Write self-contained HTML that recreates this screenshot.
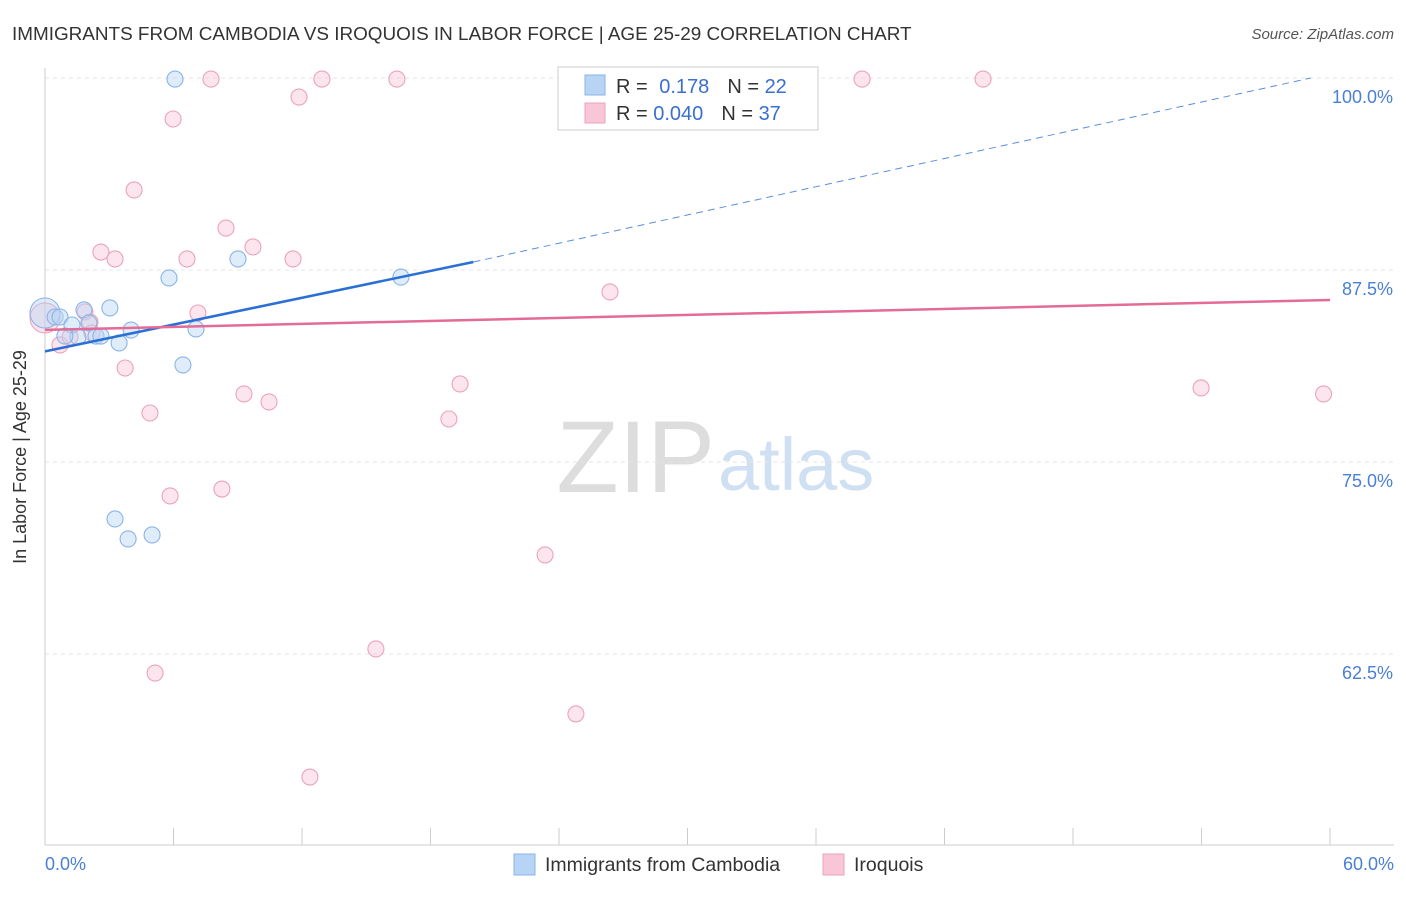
<!DOCTYPE html>
<html><head><meta charset="utf-8"><style>
body{margin:0;background:#fff;font-family:"Liberation Sans",sans-serif;}
svg text{font-family:"Liberation Sans",sans-serif;}
</style></head><body>
<svg id="c" width="1406" height="892" xmlns="http://www.w3.org/2000/svg">
<text x="12" y="40" font-size="18.9" fill="#333">IMMIGRANTS FROM CAMBODIA VS IROQUOIS IN LABOR FORCE | AGE 25-29 CORRELATION CHART</text>
<text x="1394" y="39" font-size="15" fill="#555" font-style="italic" text-anchor="end">Source: ZipAtlas.com</text>
<text x="715" y="492" font-size="102" fill="#ddd" text-anchor="end" font-family="Liberation Serif">ZIP</text>
<text x="718" y="490" font-size="74" fill="#cfe0f3">atlas</text>
<g id="grid"></g>
<line x1="45" y1="68" x2="45" y2="845" stroke="#ccc"/>
<line x1="45" y1="845" x2="1394" y2="845" stroke="#ccc"/>
<text x="26" y="457" font-size="18" fill="#333" text-anchor="middle" transform="rotate(-90 26 457)">In Labor Force | Age 25-29</text>
<text x="45" y="870" font-size="18" fill="#4a7fd4">0.0%</text>
<text x="1394" y="870" font-size="18" fill="#4a7fd4" text-anchor="end">60.0%</text>
<g id="marks"></g>
<g>
<rect x="558" y="67" width="260" height="63" fill="#fff" stroke="#ccc"/>
<rect x="585" y="75" width="20" height="20" fill="#b8d4f5" stroke="#8ab4e8"/>
<rect x="585" y="103" width="20" height="20" fill="#f8c6d6" stroke="#eba3bb"/>
<text x="616" y="93" font-size="20" fill="#333">R = <tspan fill="#3a6fd0" dx="6">0.178</tspan><tspan dx="18">N = </tspan><tspan fill="#3a6fd0">22</tspan></text>
<text x="616" y="120" font-size="20" fill="#333">R = <tspan fill="#3a6fd0">0.040</tspan><tspan dx="18">N = </tspan><tspan fill="#3a6fd0">37</tspan></text>
</g>
<g>
<rect x="514" y="854" width="21" height="21" fill="#b8d4f5" stroke="#8ab4e8"/>
<text x="545" y="871" font-size="19.5" fill="#333">Immigrants from Cambodia</text>
<rect x="823" y="854" width="21" height="21" fill="#f8c6d6" stroke="#eba3bb"/>
<text x="854" y="871" font-size="19.5" fill="#333">Iroquois</text>
</g>
</svg>
<script>
const yTicks=[100,87.5,75,62.5];
const yTickLabels=["100.0%","87.5%","75.0%","62.5%"];
const xTicks=[0,6,12,18,24,30,36,42,48,54,60];
const blueX=[0,0.47,0.7,1.26,1.54,1.82,2.05,2.38,2.61,3.03,3.46,4.02,5.79,6.07,6.44,7.05,9.01,16.62,3.27,3.88,5.0,0.93];
const blueY=[84.7,84.44,84.44,83.92,83.14,84.9,84.05,83.2,83.2,85.03,82.75,83.59,86.98,99.93,81.32,83.66,88.22,87.04,71.29,69.99,70.25,83.2];
const pinkX=[0,0.7,1.17,1.87,2.1,2.19,2.61,3.27,3.74,4.16,4.9,5.14,5.84,5.98,6.63,7.14,7.75,8.26,8.45,9.29,9.71,10.46,11.58,11.86,12.37,12.93,15.45,16.43,18.86,19.38,23.35,24.79,26.38,38.15,43.8,53.98,59.7];
const pinkY=[84.38,82.62,83.14,84.77,84.11,83.4,88.67,88.22,81.12,92.71,78.19,61.26,72.79,97.33,88.22,84.7,99.93,73.24,90.23,79.43,89.0,78.91,88.22,98.76,54.49,99.93,62.83,99.93,77.8,80.08,68.95,58.6,86.07,99.93,99.93,79.82,79.43];
const blueTrend=[0,82.2,20,88.02,59.1,100];
const pinkTrend=[0,83.6,60,85.55];
const X=v=>45+v*21.417, Y=v=>78+(100-v)*15.36;
const NS="http://www.w3.org/2000/svg";
const grid=document.getElementById('grid'), marks=document.getElementById('marks');
function mk(tag,attrs,parent){const e=document.createElementNS(NS,tag);for(const k in attrs)e.setAttribute(k,attrs[k]);parent.appendChild(e);return e;}
yTicks.forEach((t,i)=>{
 const l=mk('line',{x1:45,x2:1394,y1:Y(t),y2:Y(t),stroke:'#e4e4e4','stroke-dasharray':'4,4'},grid);
 
 
 const tx=mk('text',{x:1393,y:Y(t)+25,'font-size':18,fill:'#4a7fd4','text-anchor':'end'},grid);
 tx.textContent=yTickLabels[i];
 
 
});
xTicks.forEach(t=>{
 const l=mk('line',{x1:X(t),x2:X(t),y1:828,y2:845,stroke:'#ccc'},grid);
 
 
});
function pts(xs,ys,fill,stroke,name){
 xs.forEach((x,i)=>{
  const c=mk('circle',{cx:X(x),cy:Y(ys[i]),r:i==0?15:8,fill:fill,'fill-opacity':0.45,stroke:stroke,'stroke-width':1.1},marks);
  
  
 });
}
pts(pinkX,pinkY,'#f8c6d6','#eba3bb','iroquois-point');
pts(blueX,blueY,'#b8d4f5','#8ab4e8','cambodia-point');
let l=mk('line',{x1:X(blueTrend[0]),y1:Y(blueTrend[1]),x2:X(blueTrend[2]),y2:Y(blueTrend[3]),stroke:'#2a6fd6','stroke-width':2.5},marks);


l=mk('line',{x1:X(blueTrend[2]),y1:Y(blueTrend[3]),x2:X(blueTrend[4]),y2:Y(blueTrend[5]),stroke:'#5a8fdc','stroke-width':1,'stroke-dasharray':'7,5'},marks);


l=mk('line',{x1:X(pinkTrend[0]),y1:Y(pinkTrend[1]),x2:X(pinkTrend[2]),y2:Y(pinkTrend[3]),stroke:'#e46a97','stroke-width':2.5},marks);


</script>
</body></html>
